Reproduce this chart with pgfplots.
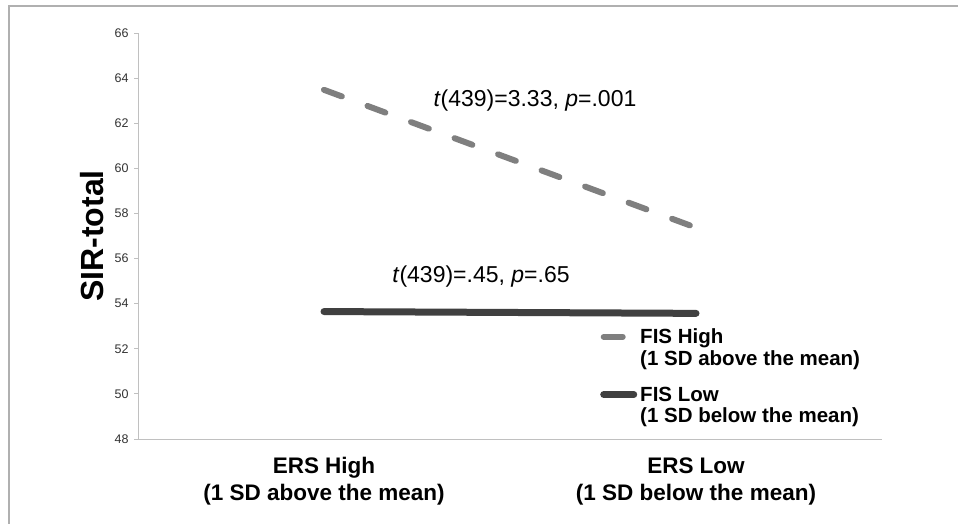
\documentclass[border=0pt]{standalone}
\usepackage{fontspec}
\setmainfont{Liberation Sans}
\usepackage{pgfplots}
\pgfplotsset{compat=1.18}
\definecolor{dashgray}{HTML}{7F7F7F}
\definecolor{solidgray}{HTML}{404040}
\definecolor{axgray}{HTML}{C0C0C0}
\definecolor{framegray}{HTML}{B0B0B0}
\begin{document}
\begin{tikzpicture}[x=1pt,y=1pt]
\draw[framegray, line width=1.5pt] (9,0) -- (9,518) -- (958,518);
\begin{axis}[
  at={(138pt,85pt)}, anchor=south west,
  scale only axis, width=744pt, height=406pt,
  xmin=0, xmax=2, ymin=48, ymax=66,
  clip=false,
  axis x line*=bottom, axis y line*=left,
  axis line style={axgray, line width=0.8pt, -},
  tick align=outside,
  ytick={48,50,...,66},
  major tick length=4pt,
  tick style={axgray, line width=0.8pt},
  yticklabel style={font=\fontsize{12.5}{14}\selectfont, text=black!80, xshift=-2pt},
  /pgf/number format/assume math mode=true,
  xtick={0.5,1.5},
  xticklabels={{ERS High\\(1 SD above the mean)},{ERS Low\\(1 SD below the mean)}},
  xtick style={draw=none},
  xticklabel style={font=\fontsize{22.5}{27}\selectfont\bfseries, align=center, text=black, yshift=-11pt},
  extra x ticks={0,1,2}, extra x tick labels={},
  extra x tick style={major tick length=6pt, xtick style={axgray, line width=0.8pt}},
  ylabel={\bfseries SIR-total},
  every axis y label/.style={at={(rel axis cs:0,0.5)}, xshift=-46pt, rotate=90, anchor=center,
    font=\fontsize{32}{36}\selectfont},
  legend style={at={(rel axis cs:0.621,0.274)}, anchor=north west, draw=none, fill=none,
    font=\fontsize{20.5}{21.5}\selectfont\bfseries, inner sep=0pt, row sep=18pt,
    nodes={align=left, inner sep=1pt}, column sep=2pt},
  legend cell align=left,
  legend image code/.code={\draw[#1] (0pt,11pt) -- (30pt,11pt);},
]
\addplot[dashgray, line width=6pt, line cap=round, dash pattern=on 19pt off 27.4pt] coordinates {(0.5,63.48) (1.5,57.37)};
\addlegendentry{FIS High\\(1 SD above the mean)}
\addplot[solidgray, line width=7pt, line cap=round] coordinates {(0.5,53.65) (1.5,53.57)};
\addlegendentry{FIS Low\\(1 SD below the mean)}
\node[font=\fontsize{23}{26}\selectfont] at (axis cs:1.067,63.0) {\textit{t}(439)=3.33, \textit{p}=.001};
\node[font=\fontsize{23}{26}\selectfont] at (axis cs:0.922,55.2) {\textit{t}(439)=.45, \textit{p}=.65};
\end{axis}
\pgfresetboundingbox
\path[use as bounding box] (0,0) rectangle (958,524);
\end{tikzpicture}
\end{document}
